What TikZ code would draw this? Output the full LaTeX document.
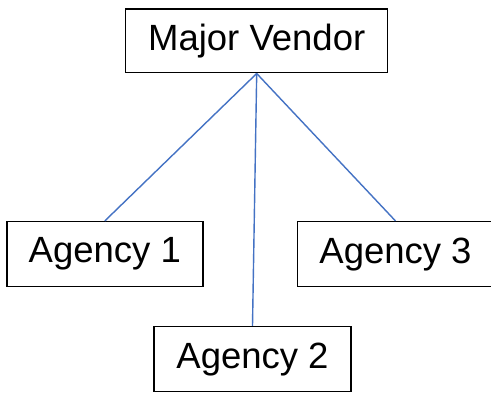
\documentclass[tikz,border=0pt]{standalone}
\usepackage{fontspec}
\setmainfont{Liberation Sans}
\begin{document}
\begin{tikzpicture}[x=1pt,y=1pt,
  box/.style={draw=black, line width=1.5pt, fill=white, inner sep=0pt,
    font=\fontsize{36.5}{40}\selectfont},
  link/.style={draw=blue!50!cyan!60!black, color={rgb,255:red,68;green,114;blue,196}, line width=1.4pt}]
\useasboundingbox (0,0) rectangle (491,392);
\fill[white] (0,0) rectangle (491,392);
\node[box, minimum width=262pt, minimum height=63.7pt] (mv) at (256.7,351.1) {Major Vendor};
\node[box, minimum width=196pt, minimum height=65pt] (a1) at (104.8,137.8) {Agency 1};
\node[box, minimum width=196pt, minimum height=65pt] (a3) at (395.5,137.8) {Agency 3};
\node[box, minimum width=197pt, minimum height=65pt] (a2) at (252.5,32.8) {Agency 2};
\draw[link] (mv.south) -- (a1.north);
\draw[link] (mv.south) -- (a2.north);
\draw[link] (mv.south) -- (a3.north);
\end{tikzpicture}
\end{document}
